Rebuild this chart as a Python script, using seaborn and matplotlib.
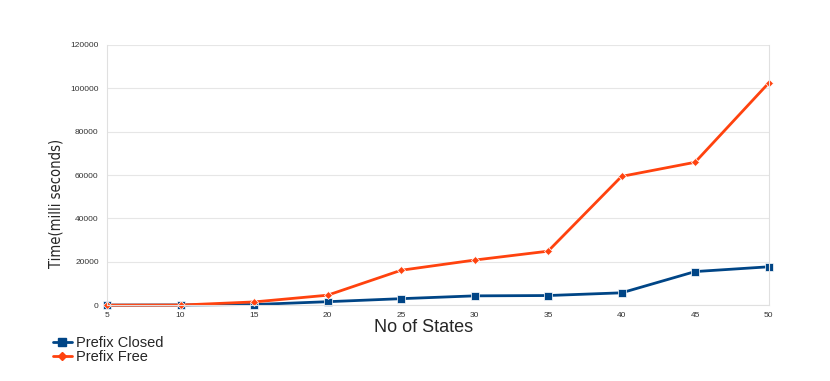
import pandas as pd
import matplotlib
matplotlib.use("Agg")
import matplotlib.pyplot as plt
from matplotlib import font_manager
from matplotlib.lines import Line2D
import seaborn as sns

# values
states = [5, 10, 15, 20, 25, 30, 35, 40, 45, 50]
prefix_closed = [50, 100, 300, 1600, 3000, 4300, 4450, 5700, 15500, 17700]
prefix_free = [0, 50, 1500, 4600, 16100, 20800, 24900, 59400, 65900, 102400]
series_names = ["Prefix Closed", "Prefix Free"]
y_ticks = [0, 20000, 40000, 60000, 80000, 100000, 120000]

df = pd.DataFrame({
    "states": states * 2,
    "time": prefix_closed + prefix_free,
    "series": [series_names[0]] * len(states) + [series_names[1]] * len(states),
})

sns.set_style("white")
plt.rcParams["font.family"] = ["Liberation Sans", "DejaVu Sans"]

# narrow font for the y label if one is around
names = {f.name for f in font_manager.fontManager.ttflist}
narrow = "Liberation Sans Narrow" if "Liberation Sans Narrow" in names else "DejaVu Sans"

fig = plt.figure(figsize=(8.3, 3.81), dpi=100)
ax = fig.add_axes([0.129, 0.199, 0.797, 0.683])

sns.lineplot(data=df, x="states", y="time", hue="series", style="series",
             markers={"Prefix Closed": "s", "Prefix Free": "D"}, dashes=False,
             palette={"Prefix Closed": "#004586", "Prefix Free": "#ff420e"},
             linewidth=2, ax=ax, legend=False)
for line, ms in zip(ax.lines, [6, 4]):
    line.set_markersize(ms)
    line.set_markeredgewidth(0.5)
    line.set_clip_on(False)

ax.set_xlim(5, 50)
ax.set_ylim(0, 120000)
ax.set_xticks(states)
ax.set_yticks(y_ticks)
ax.tick_params(labelsize=6, length=0, colors="#333333")
ax.tick_params(axis="y", pad=6)
ax.tick_params(axis="x", pad=5)
ax.yaxis.grid(True, color="#e6e6e6", linewidth=0.8)
ax.set_axisbelow(True)
for s in ax.spines.values():
    s.set_color("#e0e0e0")
    s.set_linewidth(0.8)
ax.spines["top"].set_visible(False)

ax.set_xlabel("No of States", fontsize=13)
ax.xaxis.set_label_coords(0.479, -0.053)
ax.set_ylabel("Time(milli seconds)", fontsize=10.5, family=narrow, fontstretch="condensed")
ax.yaxis.set_label_coords(-0.066, 0.39)

handles = [Line2D([], [], color="#004586", marker="s", markersize=6, linewidth=2),
           Line2D([], [], color="#ff420e", marker="D", markersize=4, linewidth=2)]
fig.legend(handles, series_names, loc="upper left", bbox_to_anchor=(0.055, 0.138),
           frameon=False, fontsize=10.5, handlelength=1.3, handletextpad=0.25,
           labelspacing=0.0, borderpad=0)

fig.savefig("out.png", dpi=100)
